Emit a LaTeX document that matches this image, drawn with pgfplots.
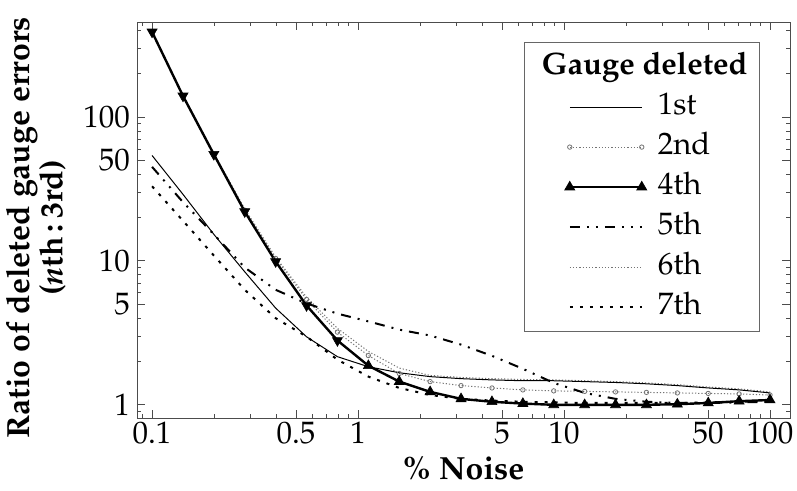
\documentclass[border=0pt]{standalone}
\usepackage[T1]{fontenc}
\usepackage{mathpazo}
\usepackage{pgfplots}
\usepackage{pgfplotstable}
\pgfplotsset{compat=1.18}

% ratio of deleted gauge errors, one column per deleted gauge
\pgfplotstableread{
x      g1    g2    g4    g5    g6    g7
0.1    54    390   390   45    390   33
0.1413 29    140   140   25.6  141   19
0.1995 15.3  55    55    15.3  56    10.9
0.2818 8.4   22.5  22    9.0   23    6.3
0.3981 4.7   10.4  9.9   6.3   10.6  4.0
0.5623 2.97  5.4   4.9   5.06  5.6   2.98
0.7943 2.16  3.2   2.8   4.3   3.4   2.06
1.122  1.84  2.2   1.87  3.8   2.35  1.57
1.585  1.67  1.65  1.45  3.33  1.8   1.31
2.239  1.57  1.45  1.23  3.03  1.6   1.17
3.162  1.52  1.36  1.10  2.62  1.55  1.10
4.467  1.49  1.31  1.05  2.19  1.52  1.07
6.310  1.47  1.27  1.02  1.78  1.50  1.05
8.913  1.47  1.25  1.00  1.42  1.49  1.04
12.59  1.45  1.24  1.00  1.21  1.47  1.03
17.78  1.43  1.23  1.00  1.10  1.45  1.03
25.12  1.40  1.22  1.00  1.05  1.42  1.03
35.48  1.36  1.21  1.01  1.03  1.38  1.03
50.12  1.31  1.20  1.03  1.03  1.33  1.04
70.79  1.27  1.19  1.06  1.04  1.29  1.05
100    1.21  1.17  1.08  1.05  1.23  1.06
}\data

\tikzset{
  s1/.style={black, line width=0.5pt},
  s2/.style={black!55, line width=0.5pt, dash pattern=on 0.6pt off 1pt, mark=o, mark size=1.1pt, mark options={solid, line width=0.4pt}},
  s4/.style={black, line width=1.2pt, mark=triangle*, mark size=2.9pt, mark options={solid, line width=0.3pt}},
  s5/.style={black, line width=1pt, dash pattern=on 5pt off 3.5pt on 1pt off 3.5pt on 1pt off 3.5pt},
  s6/.style={black!55, line width=0.5pt, dash pattern=on 0.6pt off 1pt},
  s7/.style={black, line width=1pt, dash pattern=on 1.5pt off 3.5pt},
}

\begin{document}
\begin{tikzpicture}
\begin{axis}[
    name=ax,
    scale only axis,
    width=326.5pt, height=198pt,
    xmode=log, ymode=log,
    xmin=0.0845, xmax=125,
    ymin=0.81, ymax=457,
    xtick={0.1,0.5,1,5,10,50,100},
    xticklabels={0.1,0.5,1,5,10,50,100},
    ytick={1,5,10,50,100},
    yticklabels={1,5,10,50,100},
    minor xtick={0.09,0.2,0.3,0.4,0.6,0.7,0.8,0.9,2,3,4,6,7,8,9,20,30,40,60,70,80,90},
    minor ytick={0.9,2,3,4,6,7,8,9,20,30,40,60,70,80,90,200,300,400},
    axis line style={black!70, line width=0.4pt},
    tick style={black!70, line width=0.4pt},
    major tick length=4pt, minor tick length=2pt,
    tick label style={font=\fontsize{15.5}{18}\selectfont},
    xticklabel style={yshift=1.5pt},
    label style={font=\fontsize{16}{18}\selectfont\bfseries},
    xlabel={\% Noise},
    xlabel style={at={(rel axis cs:0.5,0)}, anchor=base, yshift=-31pt},
    ylabel={Ratio of deleted gauge errors\\(\textit{n}th\,:\,3rd)},
    ylabel style={align=center, font=\fontsize{16}{13.5}\selectfont\bfseries,
                  at={(rel axis cs:0,0.5)}, anchor=south, yshift=32pt, xshift=-4pt},
    legend cell align=left,
    legend image code/.code={
      \path (-18pt,0pt);
      \draw[#1] plot coordinates {(0pt,0pt) (36pt,0pt)};
    },
    legend style={
      at={(rel axis cs:0.954,0.949)}, anchor=north east,
      draw=black!60, line width=0.4pt,
      font=\fontsize{15.5}{18}\selectfont,
      inner xsep=4pt, inner ysep=3pt,
      column sep=3.5pt, row sep=1.5pt,
      nodes={inner sep=2pt, text height=11pt, text depth=3.5pt},
    },
]
\addlegendimage{empty legend}
\addlegendentry{\hspace*{-58pt}\textbf{Gauge deleted}}
\addlegendimage{s1}\addlegendentry{1st}
\addlegendimage{s2}\addlegendentry{2nd}
\addlegendimage{s4}\addlegendentry{4th}
\addlegendimage{s5}\addlegendentry{5th}
\addlegendimage{s6}\addlegendentry{6th}
\addlegendimage{s7}\addlegendentry{7th}

\addplot[s6, forget plot] table[x=x, y=g6] {\data};
\addplot[s2, forget plot] table[x=x, y=g2] {\data};
\addplot[s1, forget plot] table[x=x, y=g1] {\data};
\addplot[s7, forget plot] table[x=x, y=g7] {\data};
\addplot[s5, forget plot] table[x=x, y=g5] {\data};
\addplot[s4, mark indices={8,...,21}, forget plot] table[x=x, y=g4] {\data};
\addplot[black, only marks, mark=triangle*, mark size=2.9pt,
         mark options={rotate=180, line width=0.3pt}, mark indices={1,...,7}, forget plot]
  table[x=x, y=g4] {\data};
\end{axis}
\pgfresetboundingbox
\path[use as bounding box] ([shift={(-68.5pt,-36.5pt)}]ax.south west)
  rectangle ([shift={(330pt,209pt)}]ax.south west);
\end{tikzpicture}
\end{document}
